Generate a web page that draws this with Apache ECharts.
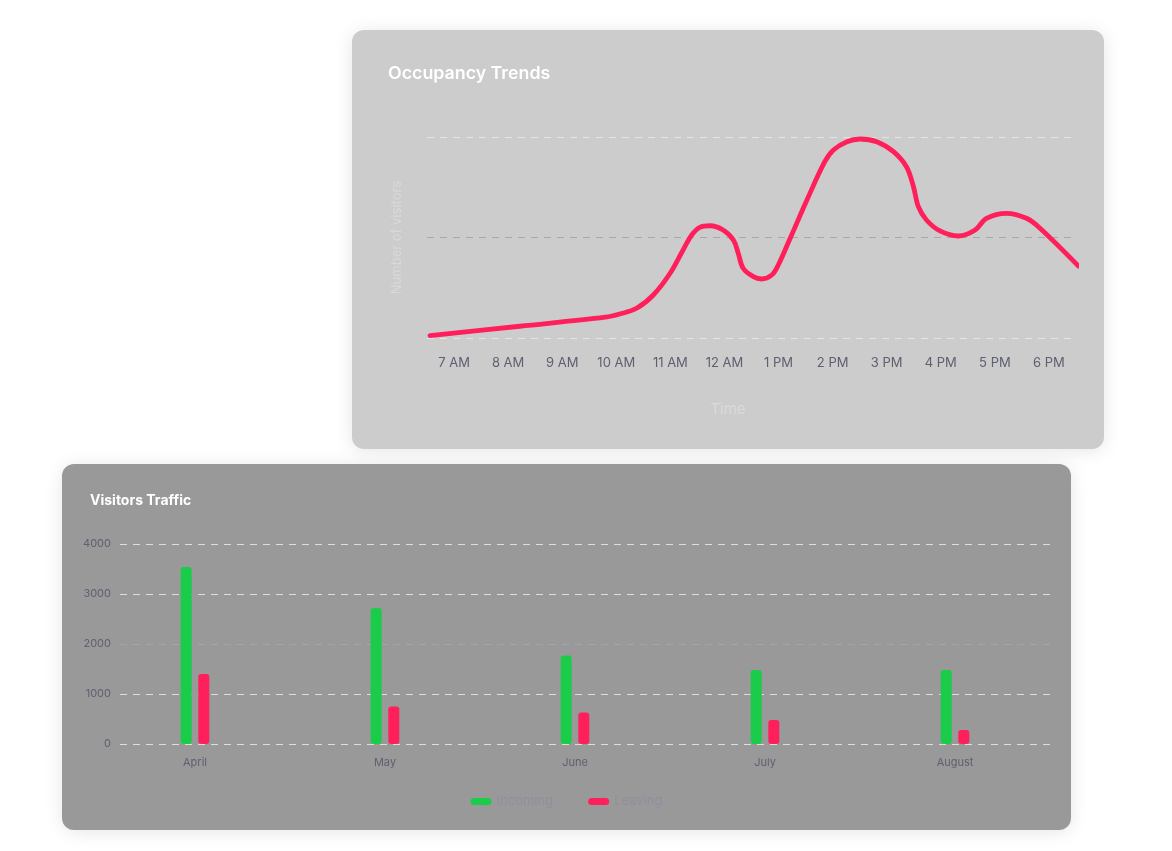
<!DOCTYPE html>
<html>
<head>
<meta charset="utf-8">
<script src="https://cdn.jsdelivr.net/npm/echarts@6/dist/echarts.min.js"></script>
<style>
  html, body { margin: 0; padding: 0; background: #ffffff; width: 1172px; height: 851px; overflow: hidden; }
  .panel { position: absolute; border-radius: 12px; box-shadow: 0 2px 18px rgba(0,0,0,0.10); }
  #top { left: 352px; top: 30px; width: 752px; height: 419px; background: #cccccc; }
  #bottom { left: 62px; top: 464px; width: 1009px; height: 366px; background: #999999; }
</style>
</head>
<body>
<div id="top" class="panel"></div>
<div id="bottom" class="panel"></div>
<script>
// ---- Occupancy Trends data ----
const hourLabels = ['7 AM','8 AM','9 AM','10 AM','11 AM','12 AM','1 PM','2 PM','3 PM','4 PM','5 PM','6 PM'];
// time of day in hours
const occTimes = [7.00, 8.66, 10.24, 10.51, 10.82, 11.13, 11.44, 11.68, 11.84, 11.99, 12.18, 12.42, 12.61, 12.70, 12.79, 12.98, 13.13, 13.32, 13.44, 13.66, 13.97, 14.30, 14.46, 14.71, 14.95, 15.26, 15.57, 15.81, 15.94, 16.03, 16.18, 16.43, 16.77, 17.08, 17.29, 17.66, 18.03, 18.28, 18.99];
// number of visitors at those times
const occValues = [2.3, 11.7, 20.7, 23.9, 29.6, 42.8, 64.4, 87.6, 102.5, 110.1, 111.7, 107.5, 97.5, 84.3, 69.4, 61.0, 58.7, 62.7, 72.6, 99.2, 137.3, 175.4, 187.1, 195.3, 198.0, 195.3, 185.4, 170.4, 150.5, 130.6, 117.4, 106.5, 101.5, 107.5, 119.1, 124.1, 119.1, 109.2, 71.6];

// ---- Visitors Traffic data ----
const months = ['April','May','June','July','August'];
const incoming = [3540,2720,1770,1480,1480];
const leaving = [1400,750,630,480,280];
const trafficTicks = [0,1000,2000,3000,4000];

const FONT = 'Inter, "Noto Sans", sans-serif';
const PILL = 'path://M3.5,0 L17.5,0 A3.5,3.5 0 0 1 17.5,7 L3.5,7 A3.5,3.5 0 0 1 3.5,0 Z';

const occData = occTimes.map((t, i) => [t, occValues[i]]);

const topChart = echarts.init(document.getElementById('top'));
topChart.setOption({
  animation: false,
  title: [
    {
      text: 'Occupancy Trends', left: 31, top: 30,
      textStyle: { color: '#ffffff', fontSize: 17.8, fontWeight: 600, fontFamily: FONT }
    },
    {
      text: 'Time', left: 'center', top: 367,
      textStyle: { color: '#dadada', fontSize: 15, fontWeight: 'normal', fontFamily: FONT }
    }
  ],
  grid: { left: 75, top: 107, width: 649, height: 201 },
  xAxis: [
    {
      type: 'category', data: hourLabels, boundaryGap: true,
      axisLine: { show: false }, axisTick: { show: false },
      axisLabel: { color: '#5e6070', fontSize: 13, margin: 19, fontFamily: FONT }
    },
    {
      type: 'value', min: 6.945, max: 18.945, show: false, splitLine: { show: false }
    }
  ],
  yAxis: {
    type: 'value', min: 0, max: 200, interval: 100,
    axisLabel: { show: false }, axisLine: { show: false }, axisTick: { show: false },
    splitLine: { lineStyle: { type: [7, 6], width: 1, color: ['#e4e4e4', '#a8a8a8', '#e4e4e4'] } },
    name: 'Number of visitors', nameLocation: 'middle', nameGap: 23,
    nameTextStyle: { color: '#d9d9d9', fontSize: 13, fontFamily: FONT }
  },
  series: [{
    type: 'line', xAxisIndex: 1, data: occData, smooth: 0.35, clip: false,
    symbol: 'none',
    lineStyle: { color: '#ff1f5a', width: 4.8, cap: 'round', join: 'round' }
  }]
});

const bottomChart = echarts.init(document.getElementById('bottom'));
bottomChart.setOption({
  animation: false,
  title: {
    text: 'Visitors Traffic', left: 23, top: 25,
    textStyle: { color: '#ffffff', fontSize: 14, fontWeight: 700, fontFamily: FONT }
  },
  legend: {
    data: ['Incoming', 'Leaving'], left: 'center', top: 326,
    itemWidth: 21, itemHeight: 7, itemGap: 35, icon: PILL,
    textStyle: { color: '#8f909f', fontSize: 13, fontFamily: FONT }
  },
  grid: [
    { left: 38, top: 80, width: 950, height: 200 },
    { left: 58, top: 80, width: 930, height: 200 }
  ],
  xAxis: [
    {
      type: 'category', data: months, gridIndex: 0,
      axisLine: { show: false }, axisTick: { show: false },
      axisLabel: { color: '#5e6070', fontSize: 11, margin: 13, fontFamily: FONT }
    },
    { type: 'category', data: months, gridIndex: 1, show: false }
  ],
  yAxis: [
    { type: 'value', gridIndex: 0, min: 0, max: 4000, interval: 1000, show: false, splitLine: { show: false } },
    {
      type: 'value', gridIndex: 1, min: trafficTicks[0], max: trafficTicks[trafficTicks.length - 1], interval: 1000,
      axisLine: { show: false }, axisTick: { show: false },
      axisLabel: { color: '#5e6070', fontSize: 11, margin: 9, fontFamily: FONT, formatter: v => String(v) },
      splitLine: { lineStyle: { type: [7, 6], width: 1, color: ['#dedede', '#dedede', '#a3a4b6', '#dedede', '#dedede'] } }
    }
  ],
  series: [
    {
      name: 'Incoming', type: 'bar', data: incoming, xAxisIndex: 0, yAxisIndex: 0,
      barWidth: 11, barGap: '60%',
      itemStyle: { color: '#1bcc4b', borderRadius: 3 }
    },
    {
      name: 'Leaving', type: 'bar', data: leaving, xAxisIndex: 0, yAxisIndex: 0,
      barWidth: 11, barGap: '60%',
      itemStyle: { color: '#ff1f5a', borderRadius: 3 }
    }
  ]
});
</script>
</body>
</html>
